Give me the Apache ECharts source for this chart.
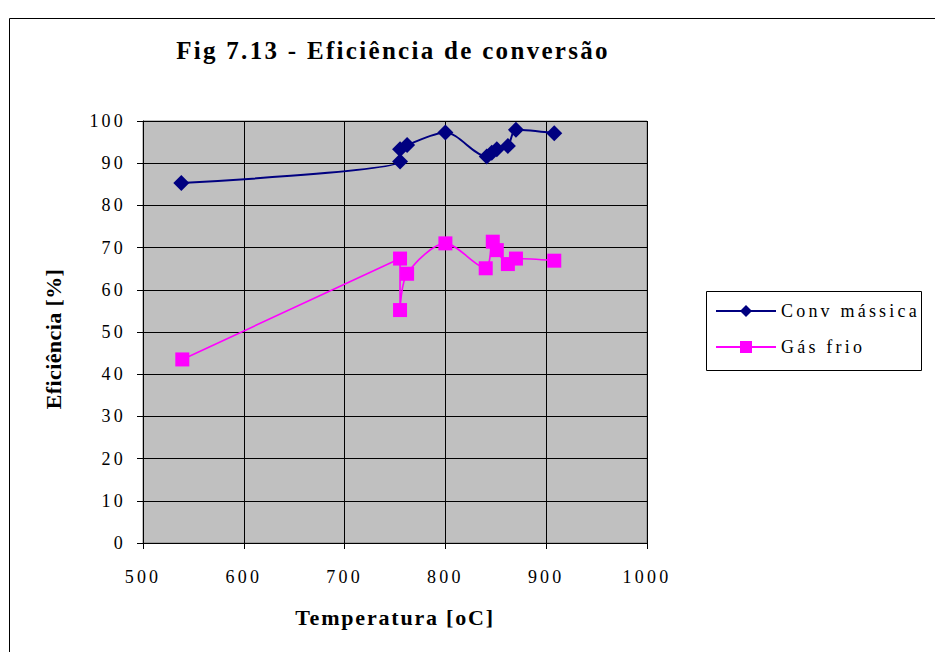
<!DOCTYPE html>
<html>
<head>
<meta charset="utf-8">
<script src="https://cdn.jsdelivr.net/npm/echarts@6/dist/echarts.min.js"></script>
<style>
  html, body { margin: 0; padding: 0; background: #fff; }
  #chart { width: 935px; height: 652px; }
</style>
</head>
<body>
<div id="chart"></div>
<script>
// ---- data ----
const titleText = 'Fig 7.13 - Eficiência de conversão';
const xAxisName = 'Temperatura [oC]';
const yAxisName = 'Eficiência [%]';
const seriesNames = ['Conv mássica', 'Gás frio'];
const xTicks = [500, 600, 700, 800, 900, 1000];
const yTicks = [0, 10, 20, 30, 40, 50, 60, 70, 80, 90, 100];
const temperaturaConv = [538, 755, 755, 762, 800, 841, 846, 851, 862, 870, 908];
const eficienciaConv  = [85.3, 90.4, 93.3, 94.3, 97.3, 91.6, 92.5, 93.3, 94.1, 97.9, 97.1];
const temperaturaGas  = [539, 755, 755, 762, 800, 840, 847, 851, 862, 870, 908];
const eficienciaGas   = [43.5, 67.4, 55.2, 63.8, 71.0, 65.1, 71.4, 69.4, 66.1, 67.4, 66.9];

const FONT = "'Liberation Serif', 'Times New Roman', serif";
const chart = echarts.init(document.getElementById('chart'), null, { renderer: 'svg' });

const option = {
  animation: false,
  backgroundColor: '#ffffff',
  graphic: [
    { type: 'rect', shape: { x: 9.5, y: 18.5, width: 960, height: 700 },
      style: { fill: 'none', stroke: '#000', lineWidth: 1 }, silent: true, z: -1 },
    { type: 'rect', shape: { x: 706.5, y: 291.5, width: 215, height: 79 },
      style: { fill: '#fff', stroke: '#000', lineWidth: 1 }, silent: true, z: 0 },
    { type: 'text', x: 393, y: 50, z: 5,
      style: { text: titleText, font: "bold 25px " + FONT, fill: '#000',
               textAlign: 'center', textVerticalAlign: 'middle' } }
  ],
  grid: {
    left: 143, right: 288, top: 121, bottom: 109,
    show: true, backgroundColor: '#c0c0c0', borderColor: '#808080', borderWidth: 1
  },
  legend: {
    orient: 'vertical', left: 715, top: 302, padding: 0,
    itemWidth: 60, itemHeight: 15, itemGap: 18, z: 10,
    textStyle: { fontFamily: FONT, fontSize: 18, color: '#000' },
    data: seriesNames
  },
  xAxis: {
    type: 'value', min: xTicks[0], max: xTicks[xTicks.length - 1], interval: 100,
    name: xAxisName, nameLocation: 'middle', nameGap: 63,
    nameTextStyle: { fontFamily: FONT, fontSize: 22, fontWeight: 'bold', color: '#000' },
    axisLine: { show: true, onZero: false, lineStyle: { color: '#000', width: 1 } },
    axisTick: { show: true, length: 6, inside: false, lineStyle: { color: '#000' } },
    axisLabel: { margin: 25, fontFamily: FONT, fontSize: 18, color: '#000',
                 formatter: function (v) { return String(v); } },
    splitLine: { show: true, lineStyle: { color: '#000', width: 1 } }
  },
  yAxis: {
    type: 'value', min: yTicks[0], max: yTicks[yTicks.length - 1], interval: 10,
    name: yAxisName, nameLocation: 'middle', nameGap: 79,
    nameTextStyle: { fontFamily: FONT, fontSize: 22, fontWeight: 'bold', color: '#000',
                     padding: [0, 14, 0, 0] },
    axisLine: { show: true, lineStyle: { color: '#000', width: 1 } },
    axisTick: { show: true, length: 6, lineStyle: { color: '#000' } },
    axisLabel: { margin: 17, fontFamily: FONT, fontSize: 18, color: '#000',
                 formatter: function (v) { return String(v); } },
    splitLine: { show: true, lineStyle: { color: '#000', width: 1 } }
  },
  series: [
    {
      name: seriesNames[0], type: 'line', smooth: 0.3,
      data: temperaturaConv.map((t, i) => [t, eficienciaConv[i]]),
      symbol: 'diamond', symbolSize: 16,
      itemStyle: { color: '#000080' },
      lineStyle: { color: '#000080', width: 2 }, z: 3
    },
    {
      name: seriesNames[1], type: 'line', smooth: 0.3,
      data: temperaturaGas.map((t, i) => [t, eficienciaGas[i]]),
      symbol: 'rect', symbolSize: 14,
      itemStyle: { color: '#ff00ff' },
      lineStyle: { color: '#ff00ff', width: 1.6 }, z: 2
    }
  ]
};
chart.setOption(option);

function applySpacing() {
  const texts = document.querySelectorAll('#chart svg text');
  texts.forEach(function (t) {
    const s = t.textContent;
    let sp = null;
    if (s === titleText) sp = '2.3px';
    else if (s === xAxisName) sp = '1.8px';
    else if (s === yAxisName) sp = '0.4px';
    else if (seriesNames.indexOf(s) >= 0) sp = '3.2px';
    else if (/^\d+$/.test(s)) sp = '3.2px';
    if (sp) t.style.letterSpacing = sp;
  });
}
applySpacing();
chart.on('finished', applySpacing);
</script>
</body>
</html>
